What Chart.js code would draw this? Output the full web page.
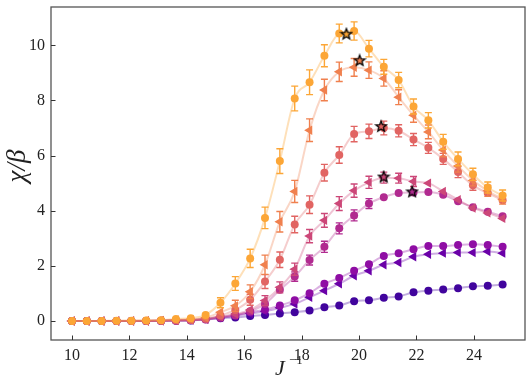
<!DOCTYPE html>
<html>
<head>
<meta charset="utf-8">
<script src="https://cdn.jsdelivr.net/npm/chart.js@4.4.1/dist/chart.umd.min.js"></script>
<style>
html,body{margin:0;padding:0;background:#fff;}
#wrap{width:532px;height:387px;}
</style>
</head>
<body>
<div id="wrap"><canvas id="c" width="532" height="387"></canvas></div>
<script>
// ---- data ----
const xVals = [10.000,10.517,11.034,11.552,12.069,12.586,13.103,13.621,14.138,14.655,15.172,15.690,16.207,16.724,17.241,17.759,18.276,18.793,19.310,19.828,20.345,20.862,21.379,21.897,22.414,22.931,23.448,23.966,24.483,25.000];
const s1 = [0.00,0.00,0.00,0.01,0.01,0.02,0.03,0.07,0.10,0.22,0.66,1.36,2.27,3.74,5.80,8.07,8.66,9.62,10.43,10.52,9.88,9.22,8.74,7.78,7.28,6.50,5.88,5.32,4.84,4.55];
const s2 = [0.00,0.00,0.00,0.00,0.01,0.01,0.02,0.04,0.06,0.12,0.32,0.55,1.06,2.04,3.60,4.70,6.92,8.38,9.04,9.20,9.10,8.80,8.12,7.46,6.86,6.20,5.62,5.10,4.72,4.42];
const s3 = [0.00,0.00,0.00,0.00,0.00,0.01,0.01,0.02,0.04,0.08,0.20,0.40,0.77,1.43,2.22,3.50,4.22,5.38,6.02,6.78,6.88,7.00,6.90,6.58,6.28,5.88,5.40,4.92,4.64,4.38];
const s4 = [0.00,0.00,0.00,0.00,0.00,0.00,0.01,0.02,0.03,0.06,0.15,0.25,0.40,0.74,1.22,1.88,3.08,3.65,4.26,4.73,5.03,5.20,5.18,5.06,5.00,4.70,4.40,4.10,3.92,3.72];
const s5 = [0.00,0.00,0.00,0.00,0.00,0.00,0.01,0.02,0.03,0.05,0.12,0.20,0.35,0.62,1.13,1.61,2.21,2.69,3.36,3.83,4.26,4.49,4.64,4.66,4.68,4.58,4.34,4.13,3.96,3.80];
const s6 = [0.00,0.00,0.00,0.00,0.00,0.00,0.01,0.02,0.04,0.08,0.15,0.22,0.32,0.41,0.56,0.75,1.01,1.35,1.56,1.82,2.06,2.36,2.46,2.60,2.72,2.72,2.76,2.78,2.76,2.69];
const s7 = [0.00,0.00,0.00,0.00,0.00,0.00,0.01,0.02,0.03,0.06,0.12,0.18,0.27,0.35,0.48,0.62,0.86,1.10,1.35,1.64,1.82,2.04,2.12,2.33,2.42,2.46,2.48,2.48,2.52,2.46];
const s8 = [0.00,0.00,0.00,0.00,0.00,0.00,0.00,0.01,0.02,0.06,0.10,0.13,0.18,0.22,0.27,0.32,0.38,0.50,0.56,0.72,0.75,0.84,0.89,1.04,1.10,1.14,1.19,1.26,1.28,1.32];

const e1 = [0.02,0.02,0.02,0.02,0.02,0.02,0.03,0.04,0.05,0.08,0.18,0.25,0.33,0.39,0.45,0.45,0.45,0.40,0.34,0.33,0.30,0.27,0.28,0.27,0.28,0.27,0.25,0.22,0.20,0.20];
const e2 = [0.02,0.02,0.02,0.02,0.02,0.02,0.03,0.04,0.05,0.07,0.15,0.20,0.25,0.35,0.37,0.40,0.41,0.39,0.35,0.32,0.30,0.28,0.27,0.25,0.25,0.24,0.22,0.20,0.20,0.18];
const e3 = [0.01,0.01,0.01,0.01,0.01,0.01,0.02,0.03,0.04,0.05,0.10,0.15,0.20,0.25,0.28,0.30,0.32,0.30,0.30,0.28,0.26,0.25,0.22,0.22,0.20,0.20,0.20,0.18,0.16,0.15];
const e4 = [0.01,0.01,0.01,0.01,0.01,0.01,0.02,0.02,0.03,0.04,0.08,0.10,0.14,0.18,0.20,0.22,0.24,0.25,0.25,0.24,0.22,0.20,0.18,0.18,0.16,0.15,0.14,0.12,0.10,0.10];
const e5 = [0.01,0.01,0.01,0.01,0.01,0.01,0.01,0.02,0.02,0.03,0.05,0.07,0.10,0.12,0.15,0.17,0.18,0.20,0.20,0.20,0.18,0.16,0.14,0.13,0.12,0.10,0.10,0.09,0.08,0.08];

const peakX = [19.56, 20.02, 20.77, 20.86, 21.85];
const peakY = [10.42, 9.46, 7.07, 5.24, 4.70];

const xTicks = [10,12,14,16,18,20,22,24];
const yTicks = [0,2,4,6,8,10];

// ---- styles ----
const colors = ['#fca636','#f0804e','#e16462','#cc4778','#b12a90','#8f0da4','#6a00a8','#41049d'];
const lineAlpha = ['rgba(252,166,54,0.35)','rgba(240,128,78,0.32)','rgba(225,100,98,0.32)','rgba(204,71,120,0.32)','rgba(177,42,144,0.32)','rgba(143,13,164,0.32)','rgba(106,0,168,0.32)','rgba(65,4,157,0.32)'];
const series = [s1,s2,s3,s4,s5,s6,s7,s8];
const errs = [e1,e2,e3,e4,e5,null,null,null];
const markers = ['circle','triangle','circle','triangle','circle','circle','triangle','circle'];

function makeStar(fill){
  const c = document.createElement('canvas');
  c.width = 14; c.height = 14;
  const g = c.getContext('2d');
  g.beginPath();
  for(let k=0;k<10;k++){
    const r = (k%2===0)?5.6:2.4;
    const a = -Math.PI/2 + k*Math.PI/5;
    const px = 7 + r*Math.cos(a), py = 7.5 + r*Math.sin(a);
    if(k===0) g.moveTo(px,py); else g.lineTo(px,py);
  }
  g.closePath();
  g.fillStyle = fill; g.fill();
  g.lineWidth = 1.3; g.strokeStyle = '#000'; g.lineJoin='miter'; g.stroke();
  return c;
}

const datasets = [];
datasets.push({
  label:'peaks',
  data: peakX.map((x,i)=>({x:x,y:peakY[i]})),
  showLine:false,
  pointStyle: colors.slice(0,5).map(makeStar),
  pointRadius: 7,
  borderWidth:0
});
series.forEach((s,i)=>{
  datasets.push({
    label:'s'+(i+1),
    data: xVals.map((x,j)=>({x:x,y:s[j]})),
    borderColor: lineAlpha[i],
    borderWidth: 2,
    tension: 0.4,
    cubicInterpolationMode:'monotone',
    pointStyle: markers[i],
    pointRotation: markers[i]==='triangle' ? -90 : 0,
    pointRadius: markers[i]==='triangle' ? 5.4 : 4,
    pointBackgroundColor: colors[i],
    pointBorderColor: colors[i],
    pointBorderWidth: 0,
    errIndex: i
  });
});

const decor = {
  id:'decor',
  beforeDatasetDraw(chart, args){
    const ds = chart.data.datasets[args.index];
    if(ds.errIndex===undefined) return;
    const err = errs[ds.errIndex];
    if(!err) return;
    const s = series[ds.errIndex];
    const xs = chart.scales.x, ys = chart.scales.y;
    const ctx = chart.ctx;
    ctx.save();
    ctx.strokeStyle = colors[ds.errIndex];
    ctx.lineWidth = 1.4;
    for(let j=0;j<xVals.length;j++){
      const px = xs.getPixelForValue(xVals[j]);
      const y1 = ys.getPixelForValue(s[j]-err[j]);
      const y2 = ys.getPixelForValue(s[j]+err[j]);
      if(Math.abs(y1-y2) < 9) continue;
      ctx.beginPath();
      ctx.moveTo(px,y1); ctx.lineTo(px,y2);
      ctx.moveTo(px-3.5,y1); ctx.lineTo(px+3.5,y1);
      ctx.moveTo(px-3.5,y2); ctx.lineTo(px+3.5,y2);
      ctx.stroke();
    }
    ctx.restore();
  },
  afterDraw(chart){
    const ctx = chart.ctx, a = chart.chartArea;
    const xs = chart.scales.x, ys = chart.scales.y;
    ctx.save();
    ctx.strokeStyle = '#555';
    ctx.lineWidth = 1.3;
    ctx.strokeRect(a.left, a.top, a.right-a.left, a.bottom-a.top);
    ctx.strokeStyle = '#333';
    ctx.lineWidth = 1;
    ctx.beginPath();
    xTicks.forEach(t=>{ const p = Math.round(xs.getPixelForValue(t))+0.5; ctx.moveTo(p,a.bottom); ctx.lineTo(p,a.bottom-4.5); });
    yTicks.forEach(t=>{ const p = Math.round(ys.getPixelForValue(t))+0.5; ctx.moveTo(a.left,p); ctx.lineTo(a.left+4.5,p); });
    ctx.stroke();
    // axis titles
    ctx.fillStyle = '#222';
    ctx.textBaseline = 'alphabetic';
    ctx.font = 'italic 22px "Liberation Serif"';
    ctx.fillText('J', 275, 375);
    ctx.font = '13px "Liberation Serif"';
    ctx.fillText('\u22121', 289, 364);
    ctx.translate(25, 166);
    ctx.rotate(-Math.PI/2);
    ctx.textAlign = 'center';
    ctx.font = 'italic 27px "Liberation Serif"';
    ctx.fillText('\u03c7/\u03b2', 0, 0);
    ctx.restore();
  }
};

new Chart(document.getElementById('c'), {
  type:'line',
  data:{datasets},
  plugins:[decor],
  options:{
    responsive:false,
    animation:false,
    layout:{padding:{top:4,right:4,left:0,bottom:0}},
    plugins:{legend:{display:false},tooltip:{enabled:false}},
    scales:{
      x:{
        type:'linear', min:9.27, max:25.78,
        grid:{display:false, drawTicks:false},
        border:{display:false},
        afterBuildTicks(sc){ sc.ticks = xTicks.map(v=>({value:v})); },
        afterFit(sc){ sc.height = 47; sc.paddingLeft = 0; sc.paddingRight = 0; },
        ticks:{font:{family:'"Liberation Serif"', size:16}, color:'#222', padding:6, maxRotation:0}
      },
      y:{
        min:-0.69, max:11.39,
        grid:{display:false, drawTicks:false},
        border:{display:false},
        afterBuildTicks(sc){ sc.ticks = yTicks.map(v=>({value:v})); },
        afterFit(sc){ sc.width = 51; sc.paddingTop = 0; sc.paddingBottom = 0; },
        ticks:{font:{family:'"Liberation Serif"', size:16}, color:'#222', padding:6}
      }
    }
  }
});
</script>
</body>
</html>
